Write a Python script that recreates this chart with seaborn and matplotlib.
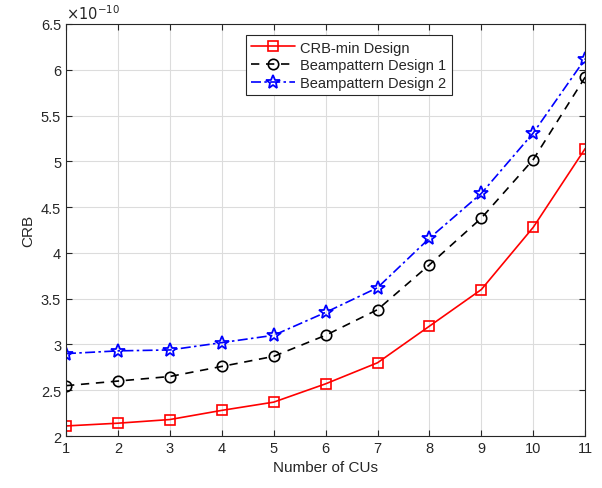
import matplotlib
matplotlib.use('Agg')
import matplotlib.pyplot as plt
import seaborn as sns
import pandas as pd

# ── Data (CRB in units of 1e-10) ─────────────────────────────────────────────
num_cus = [1, 2, 3, 4, 5, 6, 7, 8, 9, 10, 11]
crb_min = [2.11, 2.14, 2.18, 2.28, 2.37, 2.57, 2.80, 3.20, 3.60, 4.28, 5.14]
beam_1  = [2.55, 2.60, 2.65, 2.76, 2.87, 3.10, 3.38, 3.87, 4.38, 5.02, 5.92]
beam_2  = [2.90, 2.93, 2.94, 3.02, 3.10, 3.35, 3.62, 4.16, 4.65, 5.31, 6.12]
names   = ['CRB-min Design', 'Beampattern Design 1', 'Beampattern Design 2']

sns.set_style('ticks')
plt.rcParams['font.family'] = ['Liberation Sans', 'DejaVu Sans']

df = pd.DataFrame({'x': num_cus * 3,
                   'crb': crb_min + beam_1 + beam_2,
                   'design': sum([[n] * len(num_cus) for n in names], [])})

fig = plt.figure(figsize=(6.02, 4.89), dpi=100)
ax = fig.add_axes([0.1096, 0.1063, 0.8625, 0.8426])

styles = {
    names[0]: dict(color='red', ls='-', marker='s', ms=6.5, mfc='none', mew=1.2),
    names[1]: dict(color='black', ls=(0, (5, 4)), marker='o', ms=7.5, mfc='none', mew=1.2),
    names[2]: dict(color='blue', ls=(0, (6, 2, 1.5, 2)), marker='*', ms=10, mfc='none', mew=1.3),
}
for n in names:
    sub = df[df['design'] == n]
    sns.lineplot(data=sub, x='x', y='crb', ax=ax, label=n, lw=1.2,
                 markeredgecolor=styles[n]['color'], **styles[n])

ax.set_xlim(1, 11)
ax.set_ylim(2, 6.5)
ax.set_xticks(range(1, 12))
ax.set_yticks([2, 2.5, 3, 3.5, 4, 4.5, 5, 5.5, 6, 6.5])
ax.set_yticklabels(['2', '2.5', '3', '3.5', '4', '4.5', '5', '5.5', '6', '6.5'])
ax.grid(True, color='#dcdcdc', lw=0.8)
ax.tick_params(direction='in', length=4, labelsize=10.5, colors='#262626', top=True, right=True,
               labeltop=False, labelright=False)
for s in ax.spines.values():
    s.set_color('#262626'); s.set_linewidth(0.8)
ax.set_xlabel('Number of CUs', fontsize=11, color='#262626')
ax.set_ylabel('CRB', fontsize=11, color='#262626')
ax.text(0.0, 1.005, r'$\times10^{-10}$', transform=ax.transAxes, fontsize=10.5,
        color='#262626', va='bottom', ha='left')

leg = ax.legend(loc='upper left', bbox_to_anchor=(0.332, 0.99), fontsize=10.5,
                frameon=True, fancybox=False, edgecolor='#262626', framealpha=1,
                borderpad=0.35, labelspacing=0.25, handlelength=3.0, handletextpad=0.4)
leg.get_frame().set_linewidth(0.8)

fig.savefig('out.png', dpi=100)
